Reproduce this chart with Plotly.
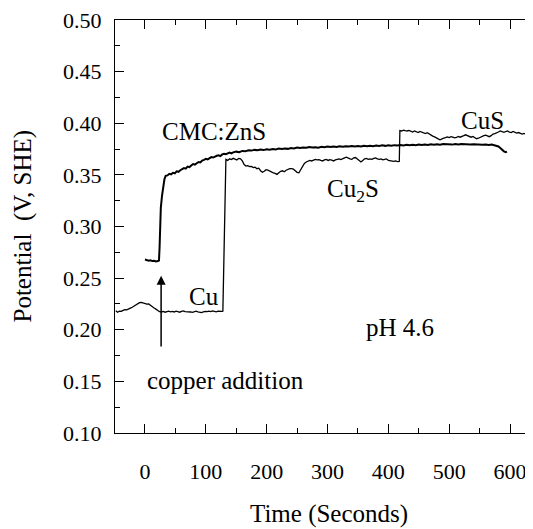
import plotly.graph_objects as go

# Lower curve: Cu -> Cu2S -> CuS (time in s, potential V vs SHE)
cu_time = [-48, -45, -42, -39, -36, -33, -30, -27, -24, -21, -18, -15, -12, -9, -6, -3, 0, 3, 6, 9,
           12, 15, 18, 21, 24, 27, 30, 33, 36, 39, 42, 45, 48, 51, 54, 57, 60, 63, 66, 69,
           72, 75, 78, 81, 84, 87, 90, 93, 96, 99, 102, 105, 108, 111, 114, 117, 120, 123, 126, 128,
           129, 130, 131, 132, 133, 136, 139, 142, 145, 148, 151, 154, 157, 160, 163, 166, 169, 172, 175, 178,
           181, 184, 187, 190, 193, 196, 199, 202, 205, 208, 211, 214, 217, 220, 223, 226, 229, 232, 235, 238,
           241, 244, 247, 250, 253, 256, 259, 262, 265, 268, 271, 274, 277, 280, 283, 286, 289, 292, 295, 298,
           301, 304, 307, 310, 313, 316, 319, 322, 325, 328, 331, 334, 337, 340, 343, 346, 349, 352, 355, 358,
           361, 364, 367, 370, 373, 376, 379, 382, 385, 388, 391, 394, 397, 400, 403, 406, 409, 412, 415, 418,
           419, 422, 425, 428, 431, 434, 437, 440, 443, 446, 449, 452, 455, 458, 461, 464, 467, 470, 473, 476,
           479, 482, 485, 488, 491, 494, 497, 500, 503, 506, 509, 512, 515, 518, 521, 524, 527, 530, 533, 536,
           539, 542, 545, 548, 551, 554, 557, 560, 563, 566, 569, 572, 575, 578, 581, 584, 587, 590, 593, 596,
           599, 602, 605, 608, 611, 614, 617, 620, 623, 626, 629, 632, 635, 638]
cu_potential = [0.2185, 0.2170, 0.2180, 0.2178, 0.2188, 0.2195, 0.2192, 0.2205, 0.2210, 0.2218, 0.2230, 0.2240, 0.2252, 0.2262, 0.2265, 0.2258, 0.2255, 0.2248, 0.2250, 0.2235,
                0.2222, 0.2210, 0.2200, 0.2185, 0.2175, 0.2172, 0.2178, 0.2170, 0.2176, 0.2180, 0.2174, 0.2178, 0.2172, 0.2180, 0.2176, 0.2170, 0.2178, 0.2182, 0.2176, 0.2175,
                0.2180, 0.2172, 0.2168, 0.2176, 0.2180, 0.2174, 0.2170, 0.2166, 0.2172, 0.2178, 0.2175, 0.2180, 0.2176, 0.2182, 0.2178, 0.2174, 0.2180, 0.2176, 0.2178, 0.2180,
                0.2500, 0.2800, 0.3100, 0.3550, 0.3650, 0.3640, 0.3655, 0.3648, 0.3660, 0.3652, 0.3645, 0.3660, 0.3655, 0.3635, 0.3600, 0.3585, 0.3590, 0.3580, 0.3582, 0.3570,
                0.3575, 0.3560, 0.3565, 0.3540, 0.3525, 0.3535, 0.3550, 0.3545, 0.3535, 0.3530, 0.3520, 0.3515, 0.3505, 0.3520, 0.3535, 0.3540, 0.3530, 0.3545, 0.3555, 0.3560,
                0.3560, 0.3555, 0.3540, 0.3525, 0.3520, 0.3550, 0.3580, 0.3610, 0.3625, 0.3630, 0.3640, 0.3635, 0.3640, 0.3650, 0.3645, 0.3648, 0.3640, 0.3635, 0.3645, 0.3650,
                0.3640, 0.3648, 0.3642, 0.3635, 0.3645, 0.3650, 0.3655, 0.3648, 0.3660, 0.3665, 0.3672, 0.3660, 0.3655, 0.3650, 0.3665, 0.3668, 0.3655, 0.3640, 0.3625, 0.3640,
                0.3655, 0.3660, 0.3650, 0.3655, 0.3650, 0.3660, 0.3665, 0.3655, 0.3650, 0.3655, 0.3645, 0.3650, 0.3655, 0.3640, 0.3635, 0.3632, 0.3630, 0.3635, 0.3628, 0.3630,
                0.3930, 0.3925, 0.3932, 0.3928, 0.3925, 0.3930, 0.3920, 0.3915, 0.3925, 0.3918, 0.3910, 0.3920, 0.3915, 0.3905, 0.3900, 0.3908, 0.3895, 0.3885, 0.3875, 0.3868,
                0.3855, 0.3848, 0.3840, 0.3850, 0.3855, 0.3860, 0.3868, 0.3862, 0.3870, 0.3865, 0.3858, 0.3862, 0.3872, 0.3865, 0.3870, 0.3880, 0.3888, 0.3878, 0.3870, 0.3865,
                0.3872, 0.3860, 0.3850, 0.3855, 0.3865, 0.3870, 0.3880, 0.3885, 0.3875, 0.3870, 0.3880, 0.3895, 0.3900, 0.3905, 0.3915, 0.3925, 0.3918, 0.3912, 0.3920, 0.3925,
                0.3915, 0.3910, 0.3920, 0.3912, 0.3905, 0.3910, 0.3900, 0.3895, 0.3902, 0.3890, 0.3885, 0.3892, 0.3880, 0.3885]

# Upper curve: CMC:ZnS
zns_time = [0, 3, 6, 9, 12, 15, 18, 21, 23, 24, 25, 26, 28, 30, 32, 34, 37, 40, 43, 46,
            49, 52, 55, 58, 61, 64, 67, 70, 73, 76, 79, 82, 85, 88, 91, 94, 97, 100, 103, 106,
            109, 112, 115, 118, 121, 124, 127, 130, 133, 136, 139, 142, 145, 150, 155, 160, 165, 170, 175, 180,
            185, 190, 195, 200, 205, 210, 215, 220, 225, 230, 235, 240, 245, 250, 255, 260, 265, 270, 275, 280,
            285, 290, 295, 300, 305, 310, 315, 320, 325, 330, 335, 340, 345, 350, 355, 360, 365, 370, 375, 380,
            385, 390, 395, 400, 405, 410, 415, 420, 425, 430, 435, 440, 445, 450, 455, 460, 465, 470, 475, 480,
            485, 490, 495, 500, 505, 510, 515, 520, 525, 530, 535, 540, 545, 550, 555, 560, 565, 570, 575, 578,
            581, 584, 587, 590, 593, 595]
zns_potential = [0.2680, 0.2675, 0.2668, 0.2672, 0.2665, 0.2668, 0.2662, 0.2665, 0.2670, 0.2800, 0.3050, 0.3180, 0.3300, 0.3400, 0.3460, 0.3490, 0.3495, 0.3510, 0.3505, 0.3520,
                 0.3515, 0.3535, 0.3530, 0.3545, 0.3555, 0.3565, 0.3560, 0.3580, 0.3575, 0.3595, 0.3605, 0.3600, 0.3615, 0.3625, 0.3620, 0.3638, 0.3645, 0.3655, 0.3650, 0.3665,
                 0.3672, 0.3668, 0.3680, 0.3685, 0.3690, 0.3682, 0.3698, 0.3705, 0.3700, 0.3710, 0.3715, 0.3708, 0.3718, 0.3725, 0.3720, 0.3732, 0.3728, 0.3738, 0.3735, 0.3742,
                 0.3738, 0.3745, 0.3740, 0.3748, 0.3744, 0.3750, 0.3746, 0.3755, 0.3750, 0.3756, 0.3752, 0.3760, 0.3756, 0.3765, 0.3760, 0.3766, 0.3762, 0.3770, 0.3765, 0.3768,
                 0.3764, 0.3772, 0.3768, 0.3774, 0.3769, 0.3775, 0.3770, 0.3776, 0.3772, 0.3778, 0.3774, 0.3780, 0.3775, 0.3779, 0.3775, 0.3782, 0.3777, 0.3783, 0.3778, 0.3784,
                 0.3780, 0.3786, 0.3781, 0.3787, 0.3782, 0.3788, 0.3784, 0.3790, 0.3785, 0.3791, 0.3786, 0.3792, 0.3788, 0.3793, 0.3789, 0.3795, 0.3790, 0.3796, 0.3792, 0.3797,
                 0.3793, 0.3798, 0.3794, 0.3797, 0.3793, 0.3798, 0.3794, 0.3799, 0.3795, 0.3798, 0.3794, 0.3797, 0.3793, 0.3796, 0.3792, 0.3795, 0.3790, 0.3794, 0.3788, 0.3785,
                 0.3775, 0.3760, 0.3742, 0.3728, 0.3720, 0.3725]

x_ticks = [0, 100, 200, 300, 400, 500, 600]
y_ticks = [0.10, 0.15, 0.20, 0.25, 0.30, 0.35, 0.40, 0.45, 0.50]
y_tick_text = ["0.10", "0.15", "0.20", "0.25", "0.30", "0.35", "0.40", "0.45", "0.50"]

FONT = "Liberation Serif, Times New Roman, serif"

# page has an 8px body margin: figure is shifted by 8px right/down
W, H = 525, 521
L, T, B = 107, 7, 96
PW = W - L
PH = H - T - B

fig = go.Figure()
fig.add_trace(go.Scatter(x=cu_time, y=cu_potential, mode="lines",
                         line=dict(color="black", width=1.3), showlegend=False))
fig.add_trace(go.Scatter(x=zns_time, y=zns_potential, mode="lines",
                         line=dict(color="black", width=2), showlegend=False))

labels = [
    dict(x=113, y=0.392, text="CMC:ZnS"),
    dict(x=554, y=0.4025, text="CuS"),
    dict(x=342, y=0.335, text="Cu<sub>2</sub>S"),
    dict(x=97, y=0.232, text="Cu"),
    dict(x=419, y=0.2025, text="pH 4.6"),
    dict(x=133, y=0.151, text="copper addition"),
]
annotations = []
for lab in labels:
    annotations.append(dict(x=lab["x"], y=lab["y"], xref="x", yref="y", text=lab["text"],
                            showarrow=False, font=dict(family=FONT, size=25, color="black"),
                            xanchor="center", yanchor="middle"))
# arrow for copper addition
annotations.append(dict(x=26.5, y=0.2522, ax=26.5, ay=0.1823, xref="x", yref="y",
                        axref="x", ayref="y", text="", showarrow=True, arrowhead=2,
                        arrowsize=1.2, arrowwidth=1.5, arrowcolor="black"))
# axis titles
annotations.append(dict(x=(321 - L) / PW, y=(T + PH - 507) / PH, xref="paper", yref="paper",
                        text="Time (Seconds)", showarrow=False, xanchor="center", yanchor="middle",
                        font=dict(family=FONT, size=25, color="black")))
annotations.append(dict(x=(14 - L) / PW, y=0.5, xref="paper", yref="paper",
                        text="Potential  (V, SHE)", showarrow=False, textangle=-90,
                        xanchor="center", yanchor="middle",
                        font=dict(family=FONT, size=25, color="black")))

fig.update_layout(
    width=W, height=H,
    margin=dict(l=L, r=0, t=T, b=B),
    plot_bgcolor="white", paper_bgcolor="white",
    font=dict(family=FONT, color="black"),
    annotations=annotations,
)
fig.update_xaxes(range=[-49.3, 637.8], showgrid=False, zeroline=False,
                 showline=True, linecolor="black", linewidth=1.2, mirror="ticks",
                 ticks="inside", ticklen=9, tickwidth=1, tickcolor="black",
                 tickvals=x_ticks, tickfont=dict(family=FONT, size=22, color="black"),
                 ticklabelstandoff=18, ticklabeloverflow="allow",
                 minor=dict(dtick=50, tick0=0, ticks="inside", ticklen=5, tickcolor="black"))
fig.update_yaxes(range=[0.10, 0.50], showgrid=False, zeroline=False,
                 showline=True, linecolor="black", linewidth=1.2, mirror=False,
                 ticks="inside", ticklen=9, tickwidth=1, tickcolor="black",
                 tickvals=y_ticks, ticktext=y_tick_text,
                 tickfont=dict(family=FONT, size=22, color="black"),
                 ticklabelstandoff=8, ticklabeloverflow="allow",
                 minor=dict(dtick=0.025, tick0=0.10, ticks="inside", ticklen=5, tickcolor="black"))

fig.write_html("out.html")
